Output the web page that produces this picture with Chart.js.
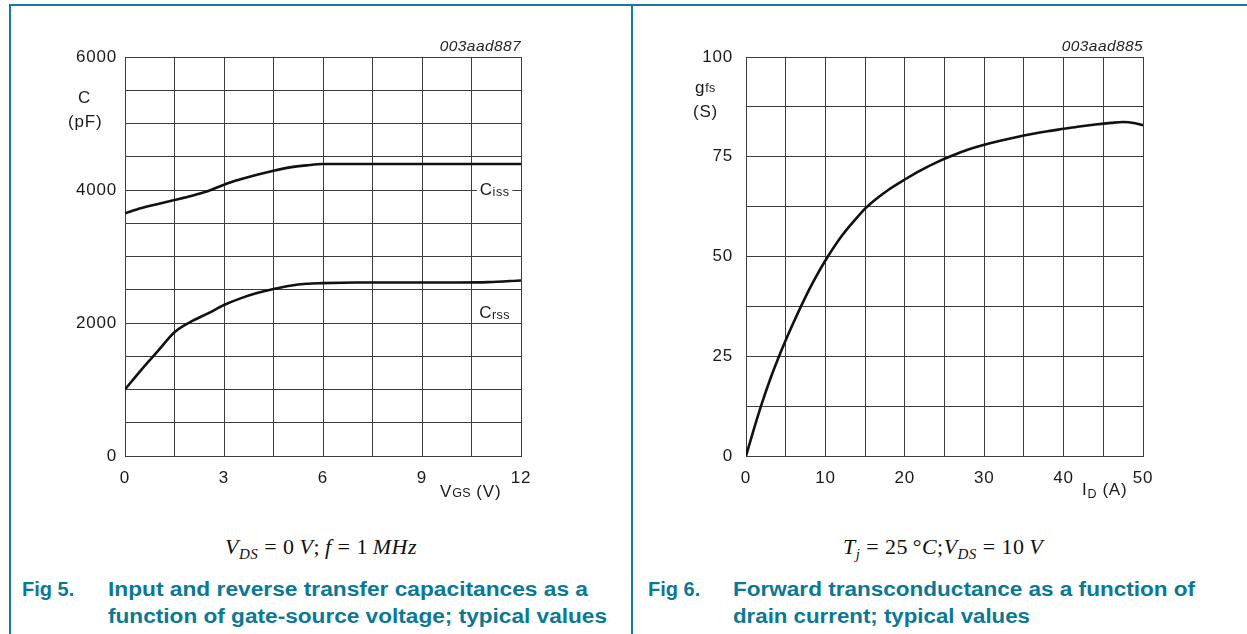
<!DOCTYPE html>
<html>
<head>
<meta charset="utf-8">
<script src="https://cdn.jsdelivr.net/npm/chart.js@4"></script>
<style>
  html, body { margin: 0; padding: 0; background: #fff; }
  body { width: 1247px; height: 634px; position: relative; overflow: hidden; }
  .frame { position: absolute; background: #137c97; }
  canvas { position: absolute; top: 0; }
  .t { position: absolute; font-family: "Liberation Sans", Arial, sans-serif; color: #1a1a1a; white-space: nowrap; font-size: 17px; letter-spacing: 0.8px; line-height: 20px; }
  .code { position: absolute; font-family: "Liberation Sans", Arial, sans-serif; font-style: italic; font-size: 15.5px; color: #222; letter-spacing: 0.4px; line-height: 18px; white-space: nowrap; }
  .small { font-size: 12.5px; letter-spacing: 0.3px; }
  .math { position: absolute; font-family: "Liberation Serif", "Times New Roman", serif; font-size: 22px; color: #111; white-space: nowrap; line-height: 26px; }
  .math i { font-style: italic; }
  .math sub { font-size: 15px; vertical-align: -5px; line-height: 0; }
  .math .op { margin: 0 6px; }
  .fig { position: absolute; font-family: "Liberation Sans", Arial, sans-serif; font-weight: bold; font-size: 20px; color: #0b7895; line-height: 27px; white-space: nowrap; }
</style>
</head>
<body>
<div class="frame" style="left:10px; top:4px; width:1237px; height:2px;"></div>
<div class="frame" style="left:9px; top:4px; width:2px; height:630px;"></div>
<div class="frame" style="left:631px; top:4px; width:2px; height:630px;"></div>

<canvas id="capChart" width="632" height="510" style="left:0px;"></canvas>
<canvas id="gfsChart" width="615" height="510" style="left:632px;"></canvas>

<!-- capacitance chart labels -->
<div class="code" style="right:726px; top:37px;">003aad887</div>
<div class="t" style="left:78px; top:88px;">C</div>
<div class="t" style="left:68px; top:112px;">(pF)</div>
<div class="t" style="left:440px; top:482px;">V<span class="small">GS</span> (V)</div>

<!-- transconductance chart labels -->
<div class="code" style="right:104px; top:37px;">003aad885</div>
<div class="t" style="left:695px; top:78px;">g<span class="small" style="position:relative; top:-1px;">fs</span></div>
<div class="t" style="left:693px; top:102px;">(S)</div>
<div class="t" style="left:1082px; top:480px;">I<span class="small" style="position:relative; top:3px;">D</span> (A)</div>

<!-- test conditions -->
<div class="math" data-w="192" style="left:225px; top:534px;"><i>V</i><sub><i>DS</i></sub><span class="op">=</span>0&thinsp;<i>V</i>;&thinsp;<i>f</i><span class="op">=</span>1&thinsp;<i>MHz</i></div>
<div class="math" data-w="200" style="left:843px; top:534px;"><i>T</i><sub><i>j</i></sub><span class="op">=</span>25&thinsp;°<i>C</i>;<i>V</i><sub><i>DS</i></sub><span class="op">=</span>10&thinsp;<i>V</i></div>

<!-- figure captions -->
<div class="fig" style="left:22px; top:576px;">Fig 5.</div>
<div class="fig" style="left:108px; top:576px;"><span class="fit" data-w="480">Input and reverse transfer capacitances as a</span><br><span class="fit" data-w="499">function of gate-source voltage; typical values</span></div>
<div class="fig" style="left:648px; top:576px;">Fig 6.</div>
<div class="fig" style="left:733px; top:576px;"><span class="fit" data-w="462">Forward transconductance as a function of</span><br><span class="fit" data-w="297">drain current; typical values</span></div>

<script>
// Fig 5: capacitances versus gate-source voltage
const vgs  = [0, 0.5, 1, 1.5, 2, 2.5, 3, 3.5, 4, 4.5, 5, 5.5, 6, 7, 8, 9, 10, 11, 12];
const ciss = [3650, 3730, 3790, 3850, 3910, 3980, 4080, 4160, 4230, 4290, 4340, 4370, 4390, 4390, 4390, 4390, 4390, 4390, 4390];
const crss = [1000, 1300, 1580, 1860, 2020, 2140, 2270, 2370, 2450, 2510, 2560, 2590, 2600, 2610, 2610, 2610, 2610, 2615, 2640];
const capXTicks = [0, 3, 6, 9, 12];
const capYTicks = [0, 2000, 4000, 6000];

// Fig 6: forward transconductance versus drain current
const idA = [0, 1, 2, 3, 4, 5, 6, 7, 8, 9, 10, 12, 14, 15, 16, 18, 20, 22, 24, 26, 28, 30, 32, 34, 36, 38, 40, 42, 44, 46, 47.5, 49, 50];
const gfs = [0, 6.8, 13.2, 19, 24.2, 29, 33.5, 37.8, 41.9, 45.6, 49, 55, 59.8, 62, 63.8, 66.8, 69.3, 71.6, 73.6, 75.3, 76.8, 78.0, 79.0, 79.9, 80.7, 81.4, 82.0, 82.6, 83.1, 83.5, 83.7, 83.4, 82.9];
const gfsXTicks = [0, 10, 20, 30, 40, 50];
const gfsYTicks = [0, 25, 50, 75, 100];

const GRID = '#3c3c3c';
const TICK_FONT = { family: '"Liberation Sans", Arial, sans-serif', size: 17 };

function pts(xs, ys) { return xs.map((x, i) => ({ x: x, y: ys[i] })); }

const spacing = {
  id: 'spacing',
  beforeDraw(chart) { chart.ctx.letterSpacing = '0.8px'; }
};

// curve names sitting on the grid with a white knock-out
const curveNames = {
  id: 'curveNames',
  afterDatasetsDraw(chart, args, opts) {
    const ctx = chart.ctx;
    const xs = chart.scales.x, ys = chart.scales.y;
    (opts.items || []).forEach(it => {
      const px = xs.getPixelForValue(it.x), py = ys.getPixelForValue(it.y);
      ctx.save();
      ctx.letterSpacing = '0.5px';
      ctx.font = '17px "Liberation Sans", Arial, sans-serif';
      const wMain = ctx.measureText(it.main).width;
      ctx.font = '12.5px "Liberation Sans", Arial, sans-serif';
      const wSub = ctx.measureText(it.sub).width;
      const w = wMain + wSub;
      const x0 = px - w / 2;
      ctx.fillStyle = '#fff';
      ctx.fillRect(x0 - 3, py - 9, w + 6, 18);
      ctx.fillStyle = '#1a1a1a';
      ctx.textBaseline = 'middle';
      ctx.textAlign = 'left';
      ctx.font = '17px "Liberation Sans", Arial, sans-serif';
      ctx.fillText(it.main, x0, py);
      ctx.font = '12.5px "Liberation Sans", Arial, sans-serif';
      ctx.fillText(it.sub, x0 + wMain, py + 3);
      ctx.restore();
    });
  }
};

function makeChart(id, cfg) {
  return new Chart(document.getElementById(id), {
    type: 'line',
    data: { datasets: cfg.datasets.map(d => ({
      data: d, borderColor: '#111', borderWidth: 2.6, pointRadius: 0,
      cubicInterpolationMode: 'monotone', fill: false
    })) },
    options: {
      responsive: false, animation: false, devicePixelRatio: 1,
      layout: { padding: { top: 57, right: cfg.padRight, left: 0, bottom: 0 } },
      plugins: { legend: { display: false }, tooltip: { enabled: false }, curveNames: { items: cfg.names || [] } },
      scales: {
        x: {
          type: 'linear', min: cfg.xMin, max: cfg.xMax,
          afterFit: s => { s.height = 54; },
          border: { display: true, color: GRID, width: 1 },
          grid: { color: GRID, lineWidth: 1, drawTicks: false },
          ticks: { stepSize: cfg.xStep, autoSkip: false, maxRotation: 0, padding: 12, color: '#1a1a1a', font: TICK_FONT,
                   callback: v => cfg.xLabels.includes(v) ? String(v) : '' }
        },
        y: {
          type: 'linear', min: cfg.yMin, max: cfg.yMax,
          afterFit: s => { s.width = cfg.yWidth; },
          border: { display: true, color: GRID, width: 1 },
          grid: { color: GRID, lineWidth: 1, drawTicks: false },
          ticks: { stepSize: cfg.yStep, autoSkip: false, padding: cfg.yPad, color: '#1a1a1a', font: TICK_FONT,
                   callback: v => cfg.yLabels.includes(v) ? String(v) : '' }
        }
      }
    },
    plugins: [spacing, curveNames]
  });
}

makeChart('capChart', {
  datasets: [pts(vgs, ciss), pts(vgs, crss)],
  xMin: 0, xMax: 12, xStep: 1.5, xLabels: capXTicks,
  yMin: 0, yMax: 6000, yStep: 500, yLabels: capYTicks,
  yWidth: 125, yPad: 8, padRight: 111,
  names: [ { x: 11.2, y: 4000, main: 'C', sub: 'iss' }, { x: 11.2, y: 2150, main: 'C', sub: 'rss' } ]
});

makeChart('gfsChart', {
  datasets: [pts(idA, gfs)],
  xMin: 0, xMax: 50, xStep: 5, xLabels: gfsXTicks,
  yMin: 0, yMax: 100, yStep: 12.5, yLabels: gfsYTicks,
  yWidth: 114, yPad: 13, padRight: 104
});

// caption lines set to their column widths
document.querySelectorAll('.fit').forEach(el => {
  el.style.display = 'inline-block';
  const w = el.getBoundingClientRect().width;
  const target = +el.dataset.w;
  el.style.transformOrigin = '0 0';
  el.style.transform = 'scaleX(' + (target / w).toFixed(4) + ')';
});

// condition lines spread to their set widths
document.querySelectorAll('.math').forEach(el => {
  const w = el.getBoundingClientRect().width;
  const n = el.textContent.length;
  const extra = (+el.dataset.w - w) / n;
  if (extra > 0) el.style.letterSpacing = extra.toFixed(2) + 'px';
});
</script>
</body>
</html>
